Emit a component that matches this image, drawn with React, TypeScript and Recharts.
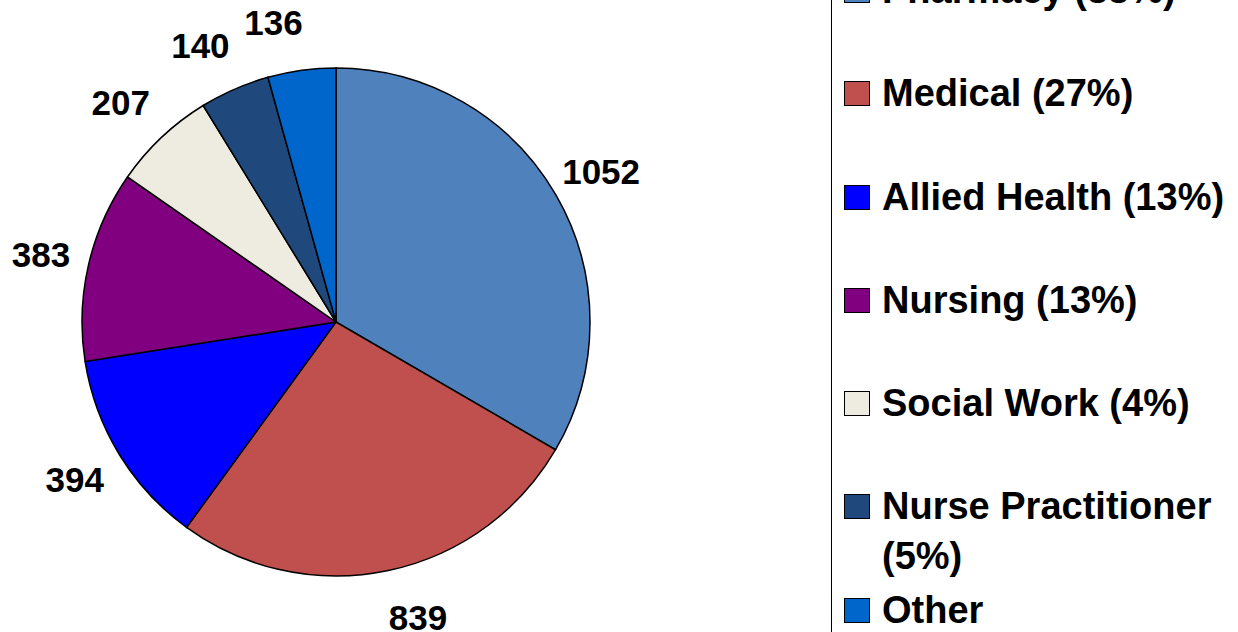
import React from 'react';
import { PieChart, Pie, Cell, Legend } from 'recharts';

const categories = ['Pharmacy', 'Medical', 'Allied Health', 'Nursing', 'Social Work', 'Nurse Practitioner', 'Other'];
const values = [1052, 839, 394, 383, 207, 140, 136];
const legendLabels = [
  'Pharmacy (33%)',
  'Medical (27%)',
  'Allied Health (13%)',
  'Nursing (13%)',
  'Social Work (4%)',
  'Nurse Practitioner (5%)',
  'Other',
];
const colors = ['#4F81BD', '#C0504D', '#0000FF', '#800080', '#EEECE1', '#1F497D', '#0066CC'];

const data = categories.map((name, i) => ({ name, value: values[i] }));

const FONT = '"Liberation Sans", Arial, Helvetica, sans-serif';
const RAD = Math.PI / 180;

const renderLabel = (props: any) => {
  const { cx, cy, midAngle, outerRadius, index } = props;
  const r = outerRadius + 48;
  const cosA = Math.cos(-midAngle * RAD);
  const x = cx + r * cosA + 25 * (1 - Math.abs(cosA)) * Math.sign(cosA);
  const y = cy + r * Math.sin(-midAngle * RAD);
  return (
    <text
      x={x}
      y={y}
      textAnchor="middle"
      dominantBaseline="central"
      fontFamily={FONT}
      fontWeight="bold"
      fontSize={35}
      fill="#000"
    >
      {values[index]}
    </text>
  );
};

const renderLegend = () => (
  <div
    style={{
      borderLeft: '1.5px solid #000',
      height: 667,
      boxSizing: 'border-box',
      paddingLeft: 12,
      fontFamily: FONT,
      fontWeight: 'bold',
      fontSize: 38,
      color: '#000',
    }}
  >
    {legendLabels.map((label, i) => (
      <div key={label} style={{ height: 103.3, display: 'flex', alignItems: 'flex-start' }}>
        <div
          style={{
            width: 26,
            height: 25,
            marginTop: 13,
            boxSizing: 'border-box',
            border: '1.5px solid #000',
            background: colors[i],
            flex: '0 0 auto',
          }}
        />
        <div style={{ marginLeft: 12, lineHeight: '50px', width: 350 }}>{label}</div>
      </div>
    ))}
  </div>
);

export default function App() {
  return (
    <div
      style={{
        position: 'absolute',
        left: 0,
        top: 0,
        width: 1238,
        height: 632,
        overflow: 'hidden',
        background: '#fff',
      }}
    >
      <PieChart width={1238} height={632} margin={{ top: 0, right: 0, bottom: 0, left: 0 }}>
        <Pie
          data={data}
          dataKey="value"
          nameKey="name"
          cx={336}
          cy={322}
          outerRadius={254}
          startAngle={90}
          endAngle={-270}
          stroke="#000"
          strokeWidth={1.5}
          label={renderLabel}
          labelLine={false}
          isAnimationActive={false}
        >
          {data.map((d, i) => (
            <Cell key={d.name} fill={colors[i]} />
          ))}
        </Pie>
        <Legend
          layout="vertical"
          align="right"
          verticalAlign="top"
          content={renderLegend}
          wrapperStyle={{ position: 'absolute', left: 831, top: -35, width: 407, height: 667, margin: 0 }}
        />
      </PieChart>
    </div>
  );
}
